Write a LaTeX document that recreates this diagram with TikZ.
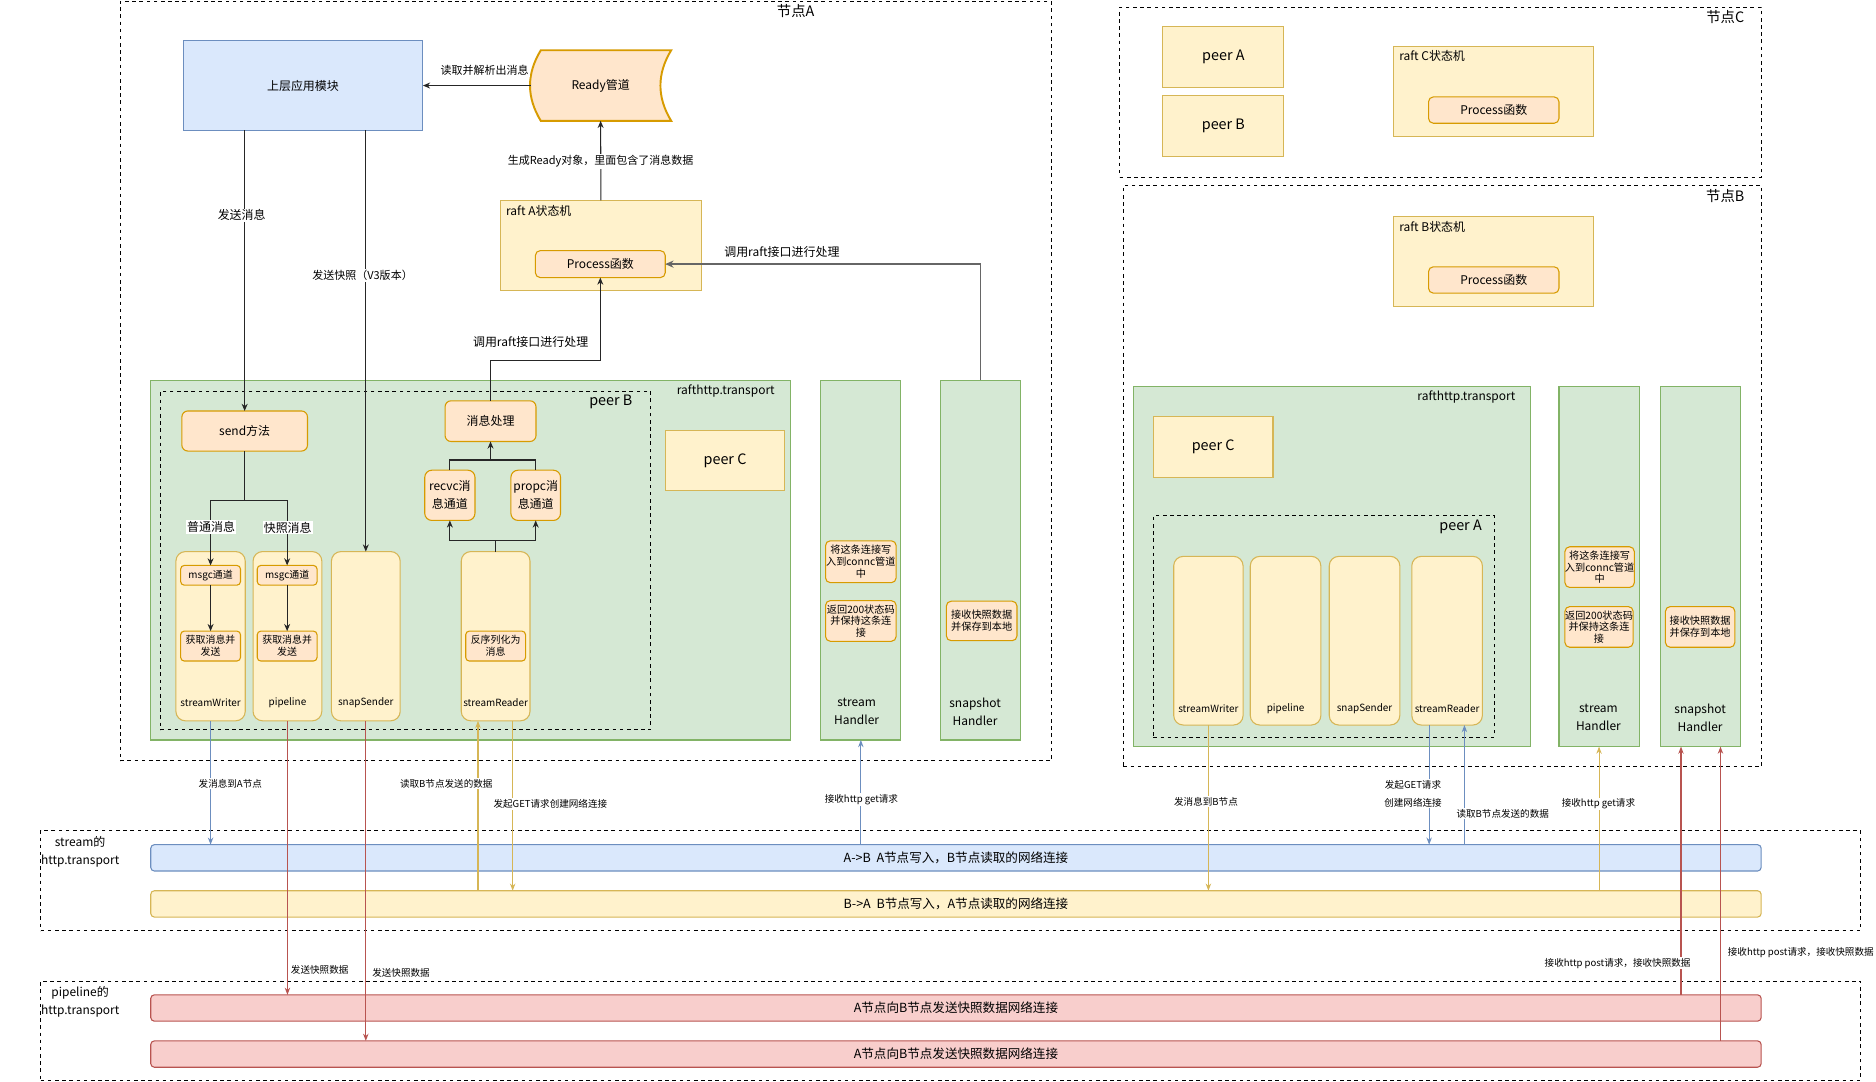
\documentclass[tikz,border=0pt]{standalone}
\usepackage{fontspec}
\setmainfont{Noto Sans CJK SC}
\usetikzlibrary{arrows.meta}
\definecolor{bfill}{HTML}{DAE8FC}\definecolor{bline}{HTML}{6C8EBF}
\definecolor{yfill}{HTML}{FFF2CC}\definecolor{yline}{HTML}{D6B656}
\definecolor{ofill}{HTML}{FFE6CC}\definecolor{oline}{HTML}{D79B00}
\definecolor{gfill}{HTML}{D5E8D4}\definecolor{gline}{HTML}{82B366}
\definecolor{rfill}{HTML}{F8CECC}\definecolor{rline}{HTML}{B85450}
\tikzset{
 fA/.style={font=\fontsize{8}{15}\selectfont},
 fS/.style={font=\fontsize{8.3}{10}\selectfont},
 fH/.style={font=\fontsize{8.5}{9.8}\selectfont},
 fM/.style={font=\fontsize{9.2}{11}\selectfont},
 fN/.style={font=\fontsize{10}{15}\selectfont},
 fR/.style={font=\fontsize{10.5}{12}\selectfont},
 fL/.style={font=\fontsize{12}{14}\selectfont},
 nw/.style={anchor=north west, inner sep=0pt, outer sep=0pt},
 wh/.style 2 args={minimum width=#1, minimum height=#2},
 dframe/.style={nw, draw=black, dashed, line width=0.8pt},
 bluebox/.style={nw, draw=bline, fill=bfill, line width=0.9pt},
 ybox/.style={nw, draw=yline, fill=yfill, line width=0.9pt},
 obox/.style={nw, draw=oline, fill=ofill, line width=0.9pt, rounded corners=4pt},
 gbox/.style={nw, draw=gline, fill=gfill, line width=0.9pt},
 rbox/.style={nw, draw=rline, fill=rfill, line width=0.9pt, rounded corners=3pt},
 colbox/.style={ybox, rounded corners=8pt},
 elbl/.style={fill=white, inner sep=1pt},
 lineK/.style={draw=black!85, line width=0.9pt},
 arrK/.style={lineK, -{Stealth[length=6pt,width=5pt]}},
 arrG/.style={draw=black!60, line width=1.4pt, -{Stealth[length=7pt,width=6pt]}},
 arrB/.style={draw=bline, line width=0.9pt, -{Stealth[length=6pt,width=4.5pt]}},
 arrY/.style={draw=yline, line width=0.9pt, -{Stealth[length=6pt,width=4.5pt]}},
 arrR/.style={draw=rline, line width=0.9pt, -{Stealth[length=6pt,width=4.5pt]}},
}
\begin{document}
\begin{tikzpicture}[x=1pt,y=-1pt]
\useasboundingbox (0,0) rectangle (1568,904);
\fill[white] (0,0) rectangle (1568,904);

% ---------- frames ----------
\node[dframe, wh={778}{635}] (nodeA) at (100.5,1) {};
\node[fL] (labA) at (665,9) {节点A};
\node[dframe, wh={536}{142}] (nodeC) at (936,6) {};
\node[fL] (labC) at (1442,14) {节点C};
\node[dframe, wh={533}{486}] (nodeB) at (939,155) {};
\node[fL] (labB) at (1442,164) {节点B};

% ---------- node C ----------
\node[ybox, wh={101}{51}, fL] (cpeerA) at (972,22) {peer A};
\node[ybox, wh={101}{51}, fL] (cpeerB) at (972,80) {peer B};
\node[ybox, wh={167}{75}] (raftC) at (1165,39) {};
\node[fN, anchor=west] (raftCl) at (1166,47) {raft C状态机};
\node[obox, wh={109}{22}, fN] (procC) at (1194,81) {Process函数};

% ---------- node B upper ----------
\node[ybox, wh={167}{75}] (raftB) at (1165,181) {};
\node[fN, anchor=west] (raftBl) at (1166,189.5) {raft B状态机};
\node[obox, wh={109}{22}, fN] (procB) at (1194,223) {Process函数};

% ---------- node A upper ----------
\node[bluebox, wh={200.5}{75}, fN] (app) at (153,34) {上层应用模块};
\draw[draw=oline, fill=ofill, line width=1.6pt] (452,42) -- (561,42)
  .. controls (549,61.7) and (549,81.3) .. (561,101) -- (452,101)
  .. controls (440,81.3) and (440,61.7) .. (452,42) -- cycle;
\node[nw, wh={117}{59}, fN] (ready) at (443.5,42) {Ready管道};
\node[ybox, wh={167.5}{75}] (raftA) at (418.5,167.5) {};
\node[fN, anchor=west] (raftAl) at (419.5,176) {raft A状态机};
\node[obox, wh={108.5}{22.5}, fN] (procA) at (447.5,209.5) {Process函数};

% ---------- transport A ----------
\node[gbox, wh={535}{300.5}] (trA) at (125.5,318) {};
\node[fN, anchor=east] (trAl) at (651,327) {rafthttp.transport};
\node[dframe, wh={410}{283}] (peerB) at (134,327) {};
\node[fL, anchor=east] (peerBl) at (532,336) {peer B};
\node[ybox, wh={100}{50}, fL] (peerCa) at (556,360) {peer C};
\node[obox, rounded corners=5pt, wh={105}{33.5}, fN] (send) at (152,343.5) {send方法};
\node[obox, rounded corners=5pt, wh={76}{34}, fN] (msgproc) at (372,335) {消息处理};
\node[obox, rounded corners=6pt, wh={42}{42}, fN, align=center] (recvc) at (355,393) {recvc消\\息通道};
\node[obox, rounded corners=6pt, wh={41.5}{42}, fN, align=center] (propc) at (427,393) {propc消\\息通道};

\node[colbox, wh={58}{141.5}] (sw) at (147,461) {};
\node[colbox, wh={57.5}{141.5}] (pl) at (211.5,461) {};
\node[colbox, wh={57.5}{141.5}] (ss) at (277,461) {};
\node[colbox, wh={57.5}{141.5}] (sr) at (385.5,461) {};
\node[fS] (swl) at (176,587) {streamWriter};
\node[fS] (pll) at (240.25,587) {pipeline};
\node[fS] (ssl) at (305.75,587) {snapSender};
\node[fS] (srl) at (414.25,587) {streamReader};
\node[obox, rounded corners=3pt, wh={50}{16.5}, fS] (msgc1) at (151,472.6) {msgc通道};
\node[obox, rounded corners=3pt, wh={50}{25}, fS, align=center] (get1) at (151,527.5) {获取消息并\\发送};
\node[obox, rounded corners=3pt, wh={50}{16.5}, fS] (msgc2) at (215,472.6) {msgc通道};
\node[obox, rounded corners=3pt, wh={50}{25}, fS, align=center] (get2) at (215,527.5) {获取消息并\\发送};
\node[obox, rounded corners=3pt, wh={50}{25}, fS, align=center] (deser) at (389.25,527.5) {反序列化为\\消息};

\node[gbox, wh={67}{300.5}] (shA) at (686,318) {};
\node[fN, align=center] (shAl) at (716,595) {stream\\Handler};
\node[obox, wh={59}{35}, fH, align=center] (connA) at (690,452) {将这条连接写\\入到connc管道\\中};
\node[obox, wh={59}{34}, fH, align=center] (retA) at (690,502) {返回200状态码\\并保持这条连\\接};
\node[gbox, wh={67}{300.5}] (snHA) at (786,318) {};
\node[fN, align=center] (snHAl) at (815,595) {snapshot\\Handler};
\node[obox, wh={59}{33}, fH, align=center] (srecA) at (791,502.5) {接收快照数据\\并保存到本地};

% ---------- transport B ----------
\node[gbox, wh={332}{301}] (trB) at (947.5,323) {};
\node[fN, anchor=east] (trBl) at (1270,332) {rafthttp.transport};
\node[ybox, wh={100}{51}, fL] (peerCb) at (964,348) {peer C};
\node[dframe, wh={285}{185}] (peerA) at (964,431) {};
\node[fL, anchor=east] (peerAl) at (1242,440) {peer A};
\node[colbox, wh={58}{141}] (swB) at (981,465) {};
\node[colbox, wh={59}{141}] (plB) at (1045,465) {};
\node[colbox, wh={59}{141}] (ssB) at (1111,465) {};
\node[colbox, wh={59}{141}] (srB) at (1180,465) {};
\node[fS] (swBl) at (1010,592) {streamWriter};
\node[fS] (plBl) at (1074.5,592) {pipeline};
\node[fS] (ssBl) at (1140.5,592) {snapSender};
\node[fS] (srBl) at (1209.5,592) {streamReader};

\node[gbox, wh={67}{301}] (shB) at (1303,323) {};
\node[fN, align=center] (shBl) at (1336,600) {stream\\Handler};
\node[obox, wh={57}{34}, fH, align=center] (connB) at (1308,457) {将这条连接写\\入到connc管道\\中};
\node[obox, wh={57}{34}, fH, align=center] (retB) at (1308,507) {返回200状态码\\并保持这条连\\接};
\node[gbox, wh={67}{301}] (snHB) at (1388,323) {};
\node[fN, align=center] (snHBl) at (1421,600) {snapshot\\Handler};
\node[obox, wh={58}{34}, fH, align=center] (srecB) at (1392,507) {接收快照数据\\并保存到本地};

% ---------- bottom transports ----------
\node[dframe, wh={1521}{84}] (stbox) at (34,694) {};
\node[fN, align=center] (stboxl) at (67,712) {stream的\\http.transport};
\node[bluebox, rounded corners=3pt, wh={1346}{22}, fR] (ab) at (126,706) {A->B\ \ A节点写入，B节点读取的网络连接};
\node[ybox, rounded corners=3pt, wh={1346}{22}, fR] (ba) at (126,744.5) {B->A\ \ B节点写入，A节点读取的网络连接};
\node[dframe, wh={1521}{83}] (plbox) at (34,820) {};
\node[fN, align=center] (plboxl) at (67,837.5) {pipeline的\\http.transport};
\node[rbox, wh={1346}{22}, fR] (pk1) at (126,831.5) {A节点向B节点发送快照数据网络连接};
\node[rbox, wh={1346}{22}, fR] (pk2) at (126,870) {A节点向B节点发送快照数据网络连接};

% ---------- top connectors ----------
\draw[arrK] (ready.west) -- (app.east);
\node[elbl, fM] at (405,59) {读取并解析出消息};
\draw[arrK] (raftA.north) -- (ready.south);
\node[elbl, fM] at (502,135) {生成Ready对象，里面包含了消息数据};
\draw[arrK] (app.south -| send.north) -- (send.north);
\node[elbl, fN] at (202,180) {发送消息};
\draw[arrK] (app.south -| ss.north) -- (ss.north);
\node[elbl, fM] at (303,230) {发送快照（V3版本）};

\coordinate (br1) at (204.5,418);
\coordinate (br2) at (414.25,451.5);
\coordinate (br3) at (410,384.5);
\draw[lineK] (send.south) -- (br1);
\draw[arrK] (br1) -| (msgc1.north);
\draw[arrK] (br1) -| (msgc2.north);
\node[elbl, fN] at (176.5,440.5) {普通消息};
\node[elbl, fN] at (240.5,441) {快照消息};
\draw[arrK] (msgc1.south) -- (get1.north);
\draw[arrK] (msgc2.south) -- (get2.north);
\draw[lineK] (sr.north) -- (br2);
\draw[arrK] (br2) -| (recvc.south);
\draw[arrK] (br2) -| (propc.south);
\draw[lineK] (recvc.north) |- (br3);
\draw[lineK] (propc.north) |- (br3);
\draw[arrK] (br3) -- (msgproc.south);
\coordinate (bend1) at (410,301);
\draw[arrK] (msgproc.north) -- (bend1) -| (procA.south);
\node[fN] at (443.5,286) {调用raft接口进行处理};
\coordinate (bend2) at (819.5,220.75);
\draw[arrG] (snHA.north) -- (bend2) -- (procA.east);
\node[fN] at (653.5,211) {调用raft接口进行处理};

% ---------- bottom connectors ----------
\coordinate (srL) at ([xshift=14]sr.south west);
\coordinate (srR) at ([xshift=-14.5]sr.south east);
\coordinate (srBL) at ([xshift=14.5]srB.south west);
\coordinate (srBR) at ([xshift=-15]srB.south east);
\coordinate (snL) at ([xshift=17]snHB.south west);
\coordinate (snR) at ([xshift=-17]snHB.south east);

\draw[arrB] (sw.south) -- (ab.north -| sw.south);
\draw[arrR] (pl.south) -- (pk1.north -| pl.south);
\draw[arrR] (ss.south) -- (pk2.north -| ss.south);
\draw[arrY] (srL |- ba.north) -- (srL);
\draw[arrY] (srR) -- (srR |- ba.north);
\draw[arrB] (ab.north -| shA.south) -- (shA.south);
\draw[arrY] (swB.south) -- (ba.north -| swB.south);
\draw[arrB] (srBL) -- (srBL |- ab.north);
\draw[arrB] (srBR |- ab.north) -- (srBR);
\draw[arrY] (ba.north -| shB.south) -- (shB.south);
\draw[arrR] (snL |- pk1.north) -- (snL);
\draw[arrR] (snR |- pk2.north) -- (snR);

\node[elbl, fA] at (192.5,655) {发消息到A节点};
\node[elbl, fA] at (373,655) {读取B节点发送的数据};
\node[elbl, fA] at (460,672) {发起GET请求创建网络连接};
\node[elbl, fA] at (720,668) {接收http get请求};
\node[elbl, fA, anchor=west] at (242,811) {发送快照数据};
\node[elbl, fA, anchor=west] at (310,813) {发送快照数据};
\node[elbl, fA] at (1008,670) {发消息到B节点};
\node[elbl, fA, align=center] at (1181,663.5) {发起GET请求\\创建网络连接};
\node[elbl, fA] at (1256,680) {读取B节点发送的数据};
\node[elbl, fA] at (1336,672) {接收http get请求};
\node[elbl, fA] at (1352,805) {接收http post请求，接收快照数据};
\node[elbl, fA, anchor=west] at (1443,796) {接收http post请求，接收快照数据};
\end{tikzpicture}
\end{document}
